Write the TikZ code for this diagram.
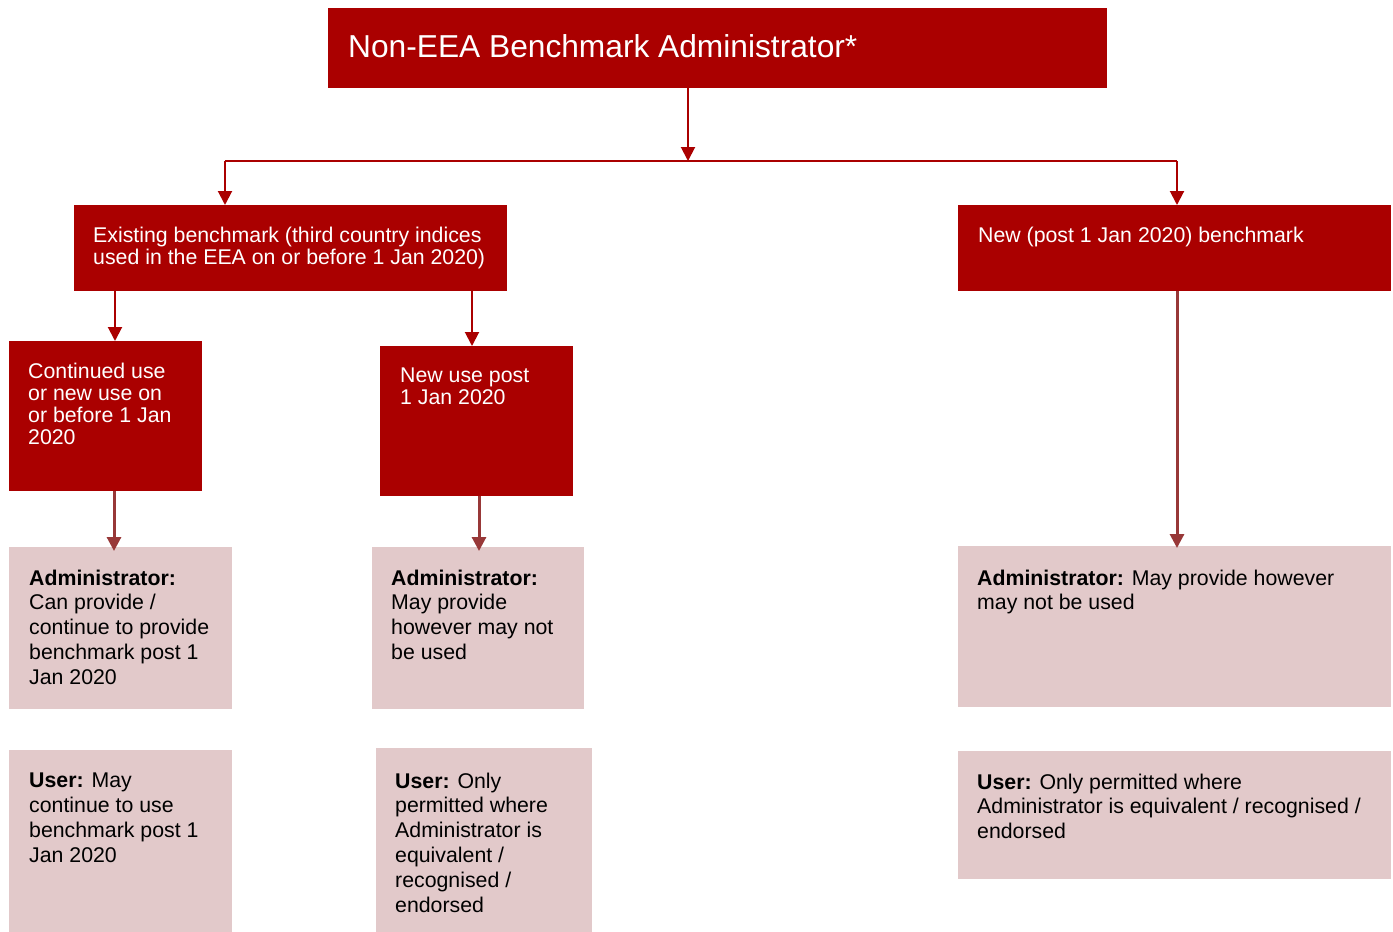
\documentclass[tikz,border=0pt]{standalone}
\usepackage{fontspec}
\setmainfont{Liberation Sans}
\usetikzlibrary{arrows.meta}
\definecolor{bred}{RGB}{170,0,0}
\definecolor{bpink}{RGB}{226,201,202}
\definecolor{bbrown}{RGB}{152,56,56}
\begin{document}
\begin{tikzpicture}[x=1pt,y=-1pt,
  redbox/.style={fill=bred,draw=none,inner sep=0pt,anchor=north west},
  pinkbox/.style={fill=bpink,draw=none,inner sep=0pt,anchor=north west},
  redtxt/.style={text=white,inner sep=0pt,anchor=north west,align=left,font=\fontsize{21.3}{22}\selectfont},
  pinktxt/.style={text=black,inner sep=0pt,anchor=north west,align=left,font=\fontsize{21.3}{24.8}\selectfont},
  redarr/.style={draw=bred,line width=2pt,-{Triangle[width=14pt,length=14pt]}},
  redline/.style={draw=bred,line width=2pt},
  brownarr/.style={draw=bbrown,line width=3pt,-{Triangle[width=14pt,length=14pt]}}
]
\useasboundingbox[fill=white] (0,0) rectangle (1393,932);

% boxes
\node[redbox,minimum width=779pt,minimum height=80pt] (top) at (328,8) {};
\node[redbox,minimum width=433pt,minimum height=86pt] (exist) at (74,205) {};
\node[redbox,minimum width=433pt,minimum height=86pt] (newb) at (958,205) {};
\node[redbox,minimum width=193pt,minimum height=150pt] (cont) at (9,341) {};
\node[redbox,minimum width=193pt,minimum height=150pt] (newuse) at (380,346) {};
\node[pinkbox,minimum width=223pt,minimum height=162pt] (adm1) at (9,547) {};
\node[pinkbox,minimum width=212pt,minimum height=162pt] (adm2) at (372,547) {};
\node[pinkbox,minimum width=433pt,minimum height=161pt] (adm3) at (958,546) {};
\node[pinkbox,minimum width=223pt,minimum height=182pt] (usr1) at (9,750) {};
\node[pinkbox,minimum width=216pt,minimum height=184pt] (usr2) at (376,748) {};
\node[pinkbox,minimum width=433pt,minimum height=128pt] (usr3) at (958,751) {};

% texts
\node[redtxt,font=\fontsize{31.7}{36}\selectfont] (ttop) at (348,34) {Non-EEA Benchmark Administrator*};
\node[redtxt] (texist) at (93,226.5) {Existing benchmark (third country indices\\used in the EEA on or before 1 Jan 2020)};
\node[redtxt] (tnewb) at (978,226.5) {New (post 1 Jan 2020) benchmark};
\node[redtxt] (tcont) at (28,362.5) {Continued use\\or new use on\\or before 1 Jan\\2020};
\node[redtxt] (tnewuse) at (400,367.5) {New use post\\1 Jan 2020};
\node[pinktxt] (tadm1) at (29,569.5) {\textbf{Administrator:}\\Can provide /\\continue to provide\\benchmark post 1\\Jan 2020};
\node[pinktxt] (tadm2) at (391,569.5) {\textbf{Administrator:}\\May provide\\however may not\\be used};
\node[pinktxt] (tadm3) at (977,569.5) {\textbf{Administrator:} May provide however\\may not be used};
\node[pinktxt] (tusr1) at (29,773) {\textbf{User:} May\\continue to use\\benchmark post 1\\Jan 2020};
\node[pinktxt] (tusr2) at (395,772.5) {\textbf{User:} Only\\permitted where\\Administrator is\\equivalent /\\recognised /\\endorsed};
\node[pinktxt] (tusr3) at (977,773.5) {\textbf{User:} Only permitted where\\Administrator is equivalent / recognised /\\endorsed};

% connectors
\coordinate (j) at (688,161);
\coordinate (jl) at (225,161);
\coordinate (jr) at (1177,161);
\draw[redarr] (top.south -| j) -- (j);
\draw[redline] (jl) -- (jr);
\draw[redarr] (jl) -- (jl |- exist.north);
\draw[redarr] (jr) -- (jr |- newb.north);
\draw[redarr] ([xshift=41pt]exist.south west) -- ([xshift=106pt]cont.north west);
\draw[redarr] ([xshift=398pt]exist.south west) -- ([xshift=92pt]newuse.north west);
\draw[brownarr] ([xshift=105pt]cont.south west) -- ([xshift=105pt,yshift=-4pt]adm1.north west);
\draw[brownarr] ([xshift=99pt]newuse.south west) -- ([xshift=107pt,yshift=-4pt]adm2.north west);
\draw[brownarr] (jr |- newb.south) -- ([yshift=-2pt]jr |- adm3.north);
\end{tikzpicture}
\end{document}
